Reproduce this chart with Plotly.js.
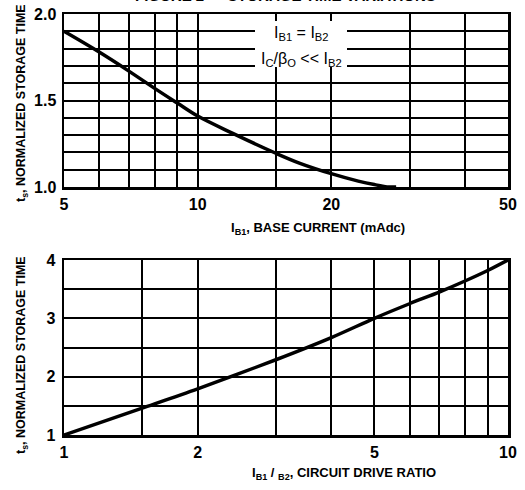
<!DOCTYPE html>
<html>
<head>
<meta charset="utf-8">
<script src="https://cdn.plot.ly/plotly-3.0.1.min.js"></script>
<style>
html,body{margin:0;padding:0;background:#fff;}
#chart{width:525px;height:490px;}
</style>
</head>
<body>
<div id="chart"></div>
<script>
// Top chart: normalized storage time vs base current
const baseCurrent = [5, 6, 7, 8, 9, 10, 12, 15, 17, 20, 23, 25, 27, 28];
const storageTop  = [1.90, 1.78, 1.67, 1.57, 1.485, 1.41, 1.31, 1.195, 1.137, 1.077, 1.034, 1.014, 1.0, 1.0];
const topXGrid = [5, 6, 7, 8, 9, 10, 15, 20, 30, 40, 50];
const topXText = ["5", "", "", "", "", "10", "", "20", "", "", "50"];
const topYGrid = [1.0, 1.1, 1.2, 1.3, 1.4, 1.5, 1.6, 1.7, 1.8, 1.9, 2.0];
const topYText = ["1.0", "", "", "", "", "1.5", "", "", "", "", "2.0"];

// Bottom chart: normalized storage time vs circuit drive ratio
const driveRatio = [1, 1.5, 2, 3, 4, 5, 6, 7, 8, 9, 10];
const storageBot = [1.0, 1.46, 1.79, 2.29, 2.67, 3.0, 3.25, 3.45, 3.64, 3.82, 4.0];
const botXGrid = [1, 1.5, 2, 3, 4, 5, 6, 7, 8, 9, 10];
const botXText = ["1", "", "2", "", "", "5", "", "", "", "", "10"];
const botYGrid = [1, 1.5, 2, 2.5, 3, 3.5, 4];
const botYText = ["1", "", "2", "", "3", "", "4"];

const FONT = "Liberation Sans, Arial, sans-serif";

const traces = [
  {x: baseCurrent, y: storageTop, xaxis: 'x', yaxis: 'y', mode: 'lines',
   line: {color: '#000', width: 3.5, shape: 'spline', smoothing: 1}, hoverinfo: 'skip', cliponaxis: false},
  {x: driveRatio, y: storageBot, xaxis: 'x2', yaxis: 'y2', mode: 'lines',
   line: {color: '#000', width: 3.5, shape: 'spline', smoothing: 0.8}, hoverinfo: 'skip'}
];

const axisCommon = {
  showline: true, mirror: true, linecolor: '#000', linewidth: 2.5,
  showgrid: true, gridcolor: '#000', gridwidth: 2,
  zeroline: false, ticks: '', tickmode: 'array',
  tickfont: {family: FONT, size: 16, color: '#000', weight: 'bold'}
};

const layout = {
  width: 525, height: 490,
  margin: {l: 0, r: 0, t: 0, b: 0},
  paper_bgcolor: '#fff', plot_bgcolor: '#fff',
  showlegend: false,
  xaxis: Object.assign({}, axisCommon, {
    type: 'log', domain: [64/525, 508/525], range: [Math.log10(5), Math.log10(50)],
    tickvals: topXGrid, ticktext: topXText, anchor: 'y', ticklabelstandoff: 1
  }),
  yaxis: Object.assign({}, axisCommon, {
    domain: [1 - 187/490, 1 - 14/490], range: [1.0, 2.0],
    tickvals: topYGrid, ticktext: topYText, anchor: 'x', ticklabelstandoff: 2
  }),
  xaxis2: Object.assign({}, axisCommon, {
    type: 'log', domain: [64/525, 508/525], range: [0, 1],
    tickvals: botXGrid, ticktext: botXText, anchor: 'y2', ticklabelstandoff: 1
  }),
  yaxis2: Object.assign({}, axisCommon, {
    domain: [1 - 435/490, 1 - 260/490], range: [1, 4],
    tickvals: botYGrid, ticktext: botYText, anchor: 'x2', ticklabelstandoff: 3
  }),
  shapes: [
    {type: 'rect', xref: 'paper', yref: 'paper', layer: 'above',
     x0: 255/525, x1: 347/525, y0: 1 - 67/490, y1: 1 - 21/490,
     fillcolor: '#fff', line: {width: 0}}
  ],
  annotations: [
    {xref: 'paper', yref: 'paper', x: 285/525, y: 1 + 15/490, yanchor: 'top', xanchor: 'center',
     text: 'FIGURE 2 — STORAGE TIME VARIATIONS', showarrow: false,
     font: {family: FONT, size: 15, color: '#000', weight: 'bold'}},
    {xref: 'paper', yref: 'paper', x: 301/525, y: 1 - 33/490, xanchor: 'center', yanchor: 'middle',
     text: 'I<sub>B1</sub> = I<sub>B2</sub>', showarrow: false,
     font: {family: FONT, size: 16, color: '#000'}},
    {xref: 'paper', yref: 'paper', x: 301/525, y: 1 - 59/490, xanchor: 'center', yanchor: 'middle',
     text: 'I<sub>C</sub>/β<sub>O</sub> << I<sub>B2</sub>', showarrow: false,
     font: {family: FONT, size: 16, color: '#000'}},
    {xref: 'paper', yref: 'paper', x: 318/525, y: 1 - 228/490, xanchor: 'center', yanchor: 'middle',
     text: 'I<sub>B1</sub>, BASE CURRENT (mAdc)', showarrow: false,
     font: {family: FONT, size: 13, color: '#000', weight: 'bold'}},
    {xref: 'paper', yref: 'paper', x: 344/525, y: 1 - 473/490, xanchor: 'center', yanchor: 'middle',
     text: 'I<sub>B1</sub> / <sub>B2</sub>, CIRCUIT DRIVE RATIO', showarrow: false,
     font: {family: FONT, size: 13, color: '#000', weight: 'bold'}},
    {xref: 'paper', yref: 'paper', x: 22/525, y: 1 - 103/490, xanchor: 'center', yanchor: 'middle',
     textangle: -90, text: 't<sub>s</sub>, NORMALIZED STORAGE TIME', showarrow: false,
     font: {family: FONT, size: 12.5, color: '#000', weight: 'bold'}},
    {xref: 'paper', yref: 'paper', x: 22/525, y: 1 - 355/490, xanchor: 'center', yanchor: 'middle',
     textangle: -90, text: 't<sub>s</sub>, NORMALIZED STORAGE TIME', showarrow: false,
     font: {family: FONT, size: 12.5, color: '#000', weight: 'bold'}}
  ]
};

Plotly.newPlot('chart', traces, layout, {staticPlot: true, displayModeBar: false});
</script>
</body>
</html>
